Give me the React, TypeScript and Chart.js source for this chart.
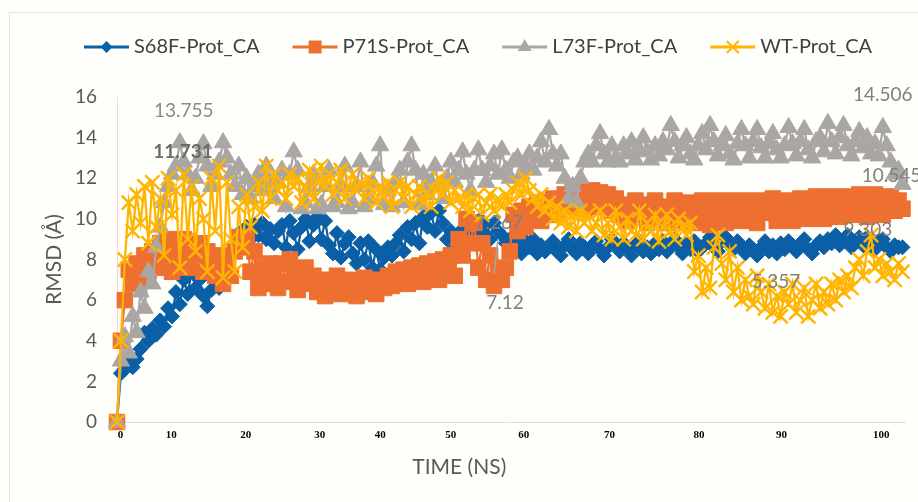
import React, { useEffect, useRef } from "react";
import { Chart, registerables } from "chart.js";

Chart.register(...registerables);

// ---- data (one value every 0.5 ns, 0 .. 100 ns) ----
const timeNs: number[] = Array.from({ length: 201 }, (_, i) => i * 0.5);

const seriesNames = ["S68F-Prot_CA", "P71S-Prot_CA", "L73F-Prot_CA", "WT-Prot_CA"];

const s68f: number[] = [
  0, 2.4, 2.6, 2.9, 2.7, 3.1, 3.6, 4.4, 4.0, 4.6,
  4.3, 5.0, 4.7, 5.6, 5.2, 6.4, 5.8, 7.0, 6.3, 7.4,
  6.6, 7.0, 6.2, 5.7, 6.5, 6.9, 6.6, 7.6, 7.4, 8.4,
  8.6, 9.3, 8.9, 9.6, 9.0, 9.7, 9.2, 9.8, 9.0, 9.5,
  8.8, 9.4, 9.7, 8.6, 9.9, 9.3, 8.5, 9.6, 10.0, 8.9,
  9.7, 10.1, 9.0, 9.9, 8.7, 8.3, 9.3, 8.1, 8.8, 9.1,
  8.3, 7.8, 8.8, 8.0, 8.9, 7.6, 8.5, 7.5, 8.1, 8.6,
  8.2, 8.8, 9.2, 8.4, 9.6, 9.0, 9.8, 8.8, 10.1, 9.6,
  10.3, 9.4, 10.4, 9.8, 9.0, 9.4, 8.6, 9.0, 9.5, 9.2,
  9.8, 9.1, 9.9, 9.4, 9.7, 9.0, 9.8, 9.4, 9.2, 8.8,
  9.0, 8.4, 8.8, 8.3, 8.9, 8.6, 9.0, 8.3, 8.7, 8.4,
  8.6, 8.9, 8.4, 8.2, 8.7, 9.0, 8.5, 8.3, 8.8, 8.6,
  8.3, 8.7, 8.9, 8.5, 8.2, 8.6, 9.0, 8.7, 8.4, 8.8,
  8.5, 8.2, 8.7, 8.9, 8.4, 8.6, 8.3, 8.8, 8.5, 8.9,
  8.4, 8.7, 9.0, 8.6, 8.3, 8.8, 8.5, 8.9, 8.4, 8.6,
  8.8, 9.1, 8.6, 8.4, 8.9, 9.1, 8.7, 8.5, 8.9, 8.6,
  8.3, 8.7, 8.5, 8.2, 8.6, 8.9, 8.4, 8.7, 8.3, 8.8,
  8.5, 8.9, 8.7, 8.4, 8.8, 9.0, 8.5, 8.3, 8.7, 8.9,
  8.6, 9.0, 8.8, 9.2, 8.7, 8.9, 9.2, 8.6, 8.9, 9.1,
  8.7, 9.1, 8.8, 8.5, 8.9, 9.0, 8.6, 8.4, 8.7, 8.6,
  8.6,
];

const p71s: number[] = [
  0, 4.0, 6.0, 7.5, 6.8, 7.8, 7.0, 8.2, 7.4, 8.4,
  7.6, 8.8, 8.2, 9.0, 7.4, 8.6, 8.0, 9.0, 7.6, 8.8,
  8.2, 8.8, 7.4, 8.4, 7.8, 7.2, 8.2, 6.8, 7.8, 7.2,
  8.4, 9.1, 8.6, 9.1, 7.4, 8.4, 6.6, 7.6, 6.8, 7.8,
  7.2, 6.6, 7.8, 6.9, 8.0, 7.4, 6.5, 7.0, 7.6, 6.8,
  7.2, 6.4, 6.9, 6.2, 7.0, 6.6, 7.2, 6.3, 6.9, 6.5,
  7.0, 6.2, 6.7, 7.1, 6.4, 6.9, 6.3, 7.0, 6.6, 7.2,
  6.7, 7.4, 7.0, 7.5, 6.8, 7.6, 7.1, 7.7, 6.9, 7.8,
  7.3, 7.9, 7.0, 8.0, 7.6, 8.2, 7.2, 9.0, 8.2, 10.0,
  8.8, 9.8, 7.6, 8.8, 7.0, 8.2, 6.7, 7.4, 7.0, 7.6,
  8.4, 10.2, 9.4, 10.4, 9.6, 10.6, 10.1, 10.8, 9.9, 10.8,
  10.4, 11.0, 10.2, 10.7, 11.2, 10.6, 11.4, 10.8, 11.4, 10.5,
  11.0, 11.4, 10.6, 11.3, 10.8, 11.2, 10.4, 11.0, 10.2, 10.7,
  9.9, 10.5, 10.9, 10.2, 10.7, 9.8, 10.4, 10.9, 10.1, 10.6,
  9.8, 10.3, 10.9, 10.5, 9.9, 10.8, 10.2, 9.8, 10.6, 10.9,
  10.2, 9.7, 10.5, 10.9, 10.1, 9.8, 10.6, 10.9, 10.3, 9.9,
  10.5, 10.9, 10.2, 9.8, 10.6, 10.9, 10.3, 11.0, 9.9, 10.5,
  10.9, 10.3, 9.9, 10.6, 11.0, 10.4, 10.0, 10.7, 11.1, 10.4,
  10.0, 10.6, 11.1, 10.4, 10.1, 10.8, 11.1, 10.5, 10.2, 11.2,
  10.6, 10.1, 10.8, 11.2, 10.4, 10.2, 10.9, 11.1, 10.4, 10.9,
  10.5,
];

const l73f: number[] = [
  0, 3.0, 4.2, 3.4, 5.2, 4.4, 6.4, 5.6, 7.4, 6.8,
  8.6, 9.6, 10.8, 11.6, 12.2, 12.6, 13.75, 12.8, 12.2, 11.4,
  12.0, 13.0, 13.7, 12.6, 11.6, 12.2, 12.8, 13.75, 13.0, 12.2,
  11.6, 12.6, 11.2, 12.0, 11.0, 11.6, 12.2, 11.4, 12.6, 11.8,
  11.0, 11.8, 12.4, 10.6, 12.2, 13.3, 12.4, 10.5, 10.8, 11.6,
  12.2, 10.5, 10.7, 11.6, 12.4, 10.6, 10.8, 11.6, 12.6, 10.5,
  10.8, 11.6, 12.8, 10.6, 11.0, 11.8, 12.6, 13.6, 10.7, 11.4,
  10.6, 11.8, 12.4, 10.8, 12.8, 13.6, 12.4, 10.7, 12.2, 11.2,
  11.8, 12.6, 11.6, 11.0, 12.0, 12.8, 11.8, 12.4, 13.3, 12.2,
  11.4, 12.4, 13.4, 12.4, 11.8, 12.6, 13.2, 12.2, 13.4, 12.4,
  12.0, 12.8, 13.0, 12.2, 12.6, 13.2, 12.4, 13.0, 13.8, 12.8,
  14.4, 13.2, 12.6, 13.2, 12.0, 11.0, 11.6, 10.8, 12.0, 12.8,
  13.2, 12.8, 13.6, 14.2, 13.2, 12.8, 13.6, 13.0, 12.8, 13.6,
  13.2, 13.8, 12.9, 13.4, 14.0, 13.3, 12.9, 13.6, 13.1, 13.8,
  13.4, 14.6, 13.8, 13.0, 13.6, 14.0, 13.2, 12.9, 13.6, 14.2,
  13.4, 14.6, 13.8, 13.1, 13.6, 14.1, 13.2, 12.9, 13.7, 14.4,
  13.6, 13.0, 13.8, 14.4, 13.5, 13.0, 13.7, 14.2, 13.4, 13.0,
  13.6, 14.5, 13.7, 13.1, 13.8, 14.4, 13.4, 13.0, 13.8, 14.0,
  13.3, 14.7, 13.8, 13.2, 14.0, 14.6, 13.6, 13.1, 13.8, 14.3,
  13.5, 14.0, 13.2, 13.7, 13.1, 14.5, 13.6, 12.8, 12.2, 12.4,
  11.7,
];

const wt: number[] = [
  0, 4.0, 8.0, 10.8, 9.4, 11.2, 9.8, 11.6, 8.8, 11.8,
  9.6, 11.0, 8.2, 12.0, 10.2, 11.4, 7.6, 12.2, 9.0, 11.6,
  8.4, 11.0, 10.0, 7.4, 12.0, 9.4, 12.6, 7.1, 11.8, 9.0,
  7.4, 10.6, 8.6, 11.2, 9.6, 10.6, 11.8, 10.4, 12.6, 11.0,
  12.2, 11.4, 11.8, 11.0, 12.2, 11.6, 12.0, 10.8, 11.5, 12.4,
  11.0, 11.8, 12.6, 11.6, 12.2, 11.2, 11.8, 12.4, 11.0, 11.6,
  12.2, 11.4, 11.8, 11.0, 12.0, 11.4, 10.8, 11.6, 11.1, 11.8,
  10.6, 11.4, 11.8, 11.0, 11.6, 10.6, 11.2, 11.6, 10.8, 11.3,
  10.6, 11.4, 12.0, 11.2, 11.8, 10.8, 11.4, 11.0, 10.6, 11.2,
  10.4, 11.0, 11.2, 10.2, 10.8, 11.2, 10.4, 11.0, 10.6, 11.2,
  10.8, 11.4, 11.8, 11.2, 12.0, 11.4, 11.0, 10.6, 11.2, 10.4,
  10.8, 10.0, 10.6, 9.8, 10.4, 9.6, 10.2, 9.4, 10.4, 9.8,
  10.2, 9.4, 9.8, 10.4, 9.2, 9.8, 9.0, 10.4, 9.6, 9.0,
  10.0, 9.4, 9.2, 10.4, 9.0, 9.8, 9.4, 10.2, 8.9, 9.6,
  10.2, 9.4, 9.0, 10.0, 9.6, 9.2, 9.8, 7.4, 8.2, 6.4,
  7.6, 6.6, 8.6, 9.2, 7.8, 7.0, 8.4, 6.4, 7.6, 6.0,
  7.0, 6.2, 5.8, 7.2, 6.4, 5.6, 6.8, 5.4, 6.2, 5.2,
  6.4, 5.8, 6.8, 5.4, 6.0, 6.6, 5.2, 6.0, 6.8, 5.6,
  6.4, 5.8, 6.8, 6.0, 7.0, 6.4, 7.2, 6.6, 7.6, 8.0,
  7.2, 8.4, 9.2, 7.6, 8.0, 7.2, 7.8, 7.4, 7.0, 7.8,
  7.4,
];

const seriesValues = [s68f, p71s, l73f, wt];

const yTicks = [0, 2, 4, 6, 8, 10, 12, 14, 16];
const xTickLabels = ["0", "10", "20", "30", "40", "50", "60", "70", "80", "90", "100"];
const xTickAt = [0.44, 6.9, 16.4, 25.8, 33.5, 42.5, 51.8, 62.7, 74.1, 84.6, 97.3];

const annotations = [
  { text: "13.755", t: 8.5, v: 15.3, color: "#8a8a8a", bold: false },
  { text: "11.731", t: 8.4, v: 13.28, color: "#6a6a6a", bold: true },
  { text: "7.267", t: 48.6, v: 9.82, color: "#808080", bold: false },
  { text: "7.12", t: 49.4, v: 5.87, color: "#808080", bold: false },
  { text: "14.506", t: 97.5, v: 16.09, color: "#808080", bold: false },
  { text: "10.545", t: 98.6, v: 12.1, color: "#808080", bold: false },
  { text: "9.303", t: 95.6, v: 9.48, color: "#808080", bold: false },
  { text: "5.357", t: 83.9, v: 6.88, color: "#808080", bold: false },
];
const leader = { t1: 48.5, v1: 9.01, t2: 48.0, v2: 7.29 };

// ---- styles ----
const colors = ["#0a5fa6", "#ed7031", "#aaa6a3", "#ffb400"];
const pointStyles = ["rectRot", "rect", "triangle", "crossRot"];
const pointRadii = [7.5, 11, 10, 10];
const drawOrder = [4, 3, 2, 1]; // WT on top, S68F at the bottom
const FONT = "Lato, 'Open Sans', sans-serif";

function drawMarker(ctx: CanvasRenderingContext2D, style: string, x: number, y: number, r: number, color: string) {
  ctx.save();
  ctx.fillStyle = color;
  ctx.strokeStyle = color;
  ctx.lineWidth = 2;
  ctx.beginPath();
  if (style === "rectRot") {
    ctx.moveTo(x - r, y);
    ctx.lineTo(x, y - r);
    ctx.lineTo(x + r, y);
    ctx.lineTo(x, y + r);
    ctx.closePath();
    ctx.fill();
  } else if (style === "rect") {
    ctx.rect(x - r, y - r, 2 * r, 2 * r);
    ctx.fill();
  } else if (style === "triangle") {
    ctx.moveTo(x, y - r);
    ctx.lineTo(x + r * 0.866, y + r * 0.5);
    ctx.lineTo(x - r * 0.866, y + r * 0.5);
    ctx.closePath();
    ctx.fill();
  } else {
    ctx.moveTo(x - r, y - r);
    ctx.lineTo(x + r, y + r);
    ctx.moveTo(x + r, y - r);
    ctx.lineTo(x - r, y + r);
    ctx.stroke();
  }
  ctx.restore();
}

const decorPlugin = {
  id: "decor",
  beforeDraw(chart: any) {
    const { ctx, width, height } = chart;
    ctx.save();
    ctx.fillStyle = "#fefefb";
    ctx.fillRect(0, 0, width, height);
    ctx.strokeStyle = "#f6dcdc";
    ctx.lineWidth = 1;
    ctx.strokeRect(9.5, 12.5, width + 20, height + 20);
    ctx.restore();
  },
  afterDraw(chart: any) {
    const { ctx, chartArea } = chart;
    const xs = chart.scales.x;
    const ys = chart.scales.y;
    ctx.save();
    // legend
    ctx.font = `20px ${FONT}`;
    ctx.textBaseline = "middle";
    ctx.textAlign = "left";
    let lx = 84;
    const ly = 47;
    const legendMarker = [6, 6.5, 8, 6];
    seriesNames.forEach((name, k) => {
      ctx.strokeStyle = colors[k];
      ctx.lineWidth = 3;
      ctx.beginPath();
      ctx.moveTo(lx, ly);
      ctx.lineTo(lx + 45, ly);
      ctx.stroke();
      drawMarker(ctx, pointStyles[k], lx + 22.5, ly, legendMarker[k], colors[k]);
      ctx.fillStyle = "#404040";
      ctx.fillText(name, lx + 50, ly);
      lx += 50 + ctx.measureText(name).width + 33;
    });
    // axis titles
    ctx.fillStyle = "#595959";
    ctx.font = `21px ${FONT}`;
    ctx.textAlign = "center";
    ctx.fillText("TIME (NS)", (chartArea.left + chartArea.right) / 2 - 52, 467);
    ctx.save();
    ctx.translate(54, (chartArea.top + chartArea.bottom) / 2);
    ctx.rotate(-Math.PI / 2);
    ctx.fillText("RMSD (Å)", 0, 0);
    ctx.restore();
    // annotations
    annotations.forEach((a) => {
      ctx.font = `${a.bold ? "bold " : ""}19px ${FONT}`;
      ctx.fillStyle = a.color;
      ctx.textAlign = "center";
      ctx.fillText(a.text, xs.getPixelForValue(a.t), ys.getPixelForValue(a.v));
    });
    ctx.strokeStyle = "#a6a6a6";
    ctx.lineWidth = 1.5;
    ctx.beginPath();
    ctx.moveTo(xs.getPixelForValue(leader.t1), ys.getPixelForValue(leader.v1));
    ctx.lineTo(xs.getPixelForValue(leader.t2), ys.getPixelForValue(leader.v2));
    ctx.stroke();
    ctx.restore();
  },
};

export default function App() {
  const ref = useRef<HTMLCanvasElement | null>(null);
  useEffect(() => {
    document.body.style.margin = "0";
    const canvas = ref.current;
    if (!canvas) return;
    const chart = new Chart(canvas, {
      type: "line",
      data: {
        datasets: seriesNames.map((name, k) => ({
          label: name,
          order: drawOrder[k],
          data: timeNs.map((t, i) => ({ x: t, y: seriesValues[k][i] })),
          borderColor: colors[k],
          backgroundColor: colors[k],
          pointBackgroundColor: colors[k],
          pointBorderColor: colors[k],
          pointStyle: pointStyles[k] as any,
          pointRadius: pointRadii[k],
          pointBorderWidth: k === 3 ? 2.4 : 1,
          borderWidth: 2.25,
          tension: 0,
          clip: false as any,
        })),
      },
      options: {
        animation: false,
        responsive: false,
        events: [],
        layout: { padding: { top: 97, right: 10, left: 0, bottom: 0 } },
        plugins: { legend: { display: false }, tooltip: { enabled: false } },
        scales: {
          x: {
            type: "linear",
            min: 0,
            max: 100.4,
            afterBuildTicks: (s: any) => {
              s.ticks = xTickAt.map((v) => ({ value: v }));
            },
            afterFit: (s: any) => {
              s.height = 80;
            },
            ticks: {
              callback: (_v: any, i: number) => xTickLabels[i],
              autoSkip: false,
              maxRotation: 0,
              padding: 7,
              color: "#000000",
              font: { family: "'Liberation Serif', serif", size: 11, weight: "bold" },
            },
            grid: { display: false, drawTicks: false },
            border: { display: true, color: "#f6d6d6", width: 1 },
          },
          y: {
            min: 0,
            max: 16,
            afterBuildTicks: (s: any) => {
              s.ticks = yTicks.map((v) => ({ value: v }));
            },
            afterFit: (s: any) => {
              s.width = 117;
            },
            ticks: {
              padding: 20,
              color: "#595959",
              font: { family: FONT, size: 19 },
            },
            grid: { display: false, drawTicks: false },
            border: { display: true, color: "#f6d6d6", width: 1 },
          },
        },
      },
      plugins: [decorPlugin],
    });
    return () => chart.destroy();
  }, []);
  return (
    <div style={{ width: 918, height: 502 }}>
      <canvas ref={ref} width={918} height={502} style={{ display: "block" }} />
    </div>
  );
}
